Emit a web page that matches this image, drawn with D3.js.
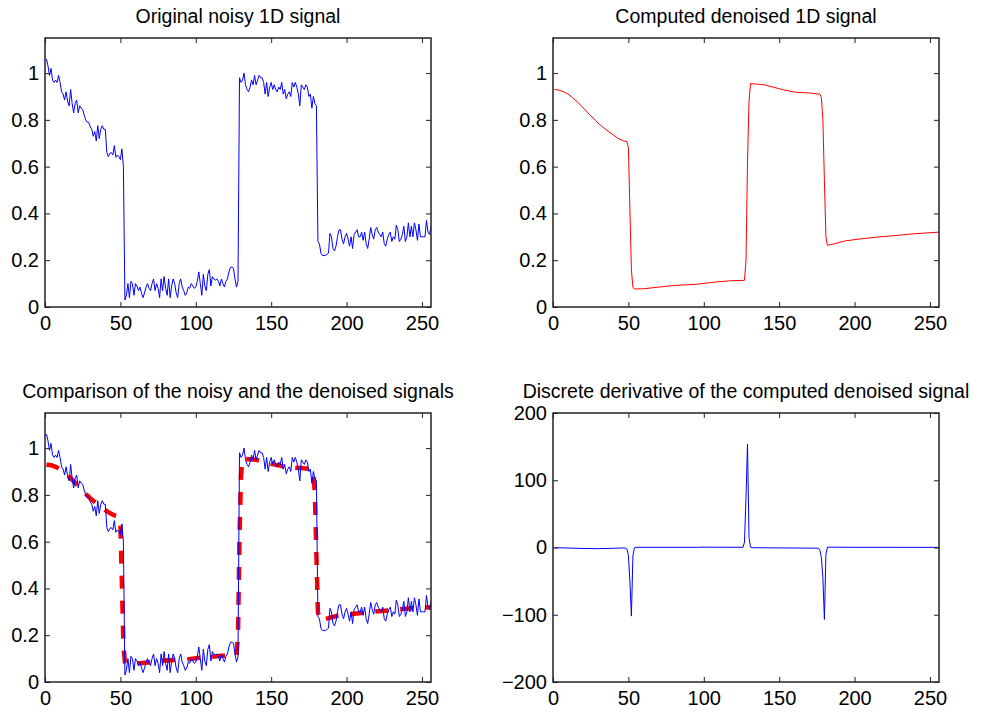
<!DOCTYPE html>
<html>
<head>
<meta charset="utf-8">
<script src="https://cdn.jsdelivr.net/npm/d3@7"></script>
<style>
  body { margin: 0; background: #fff; }
  svg { display: block; }
  text { font-family: "Liberation Sans", Arial, Helvetica, sans-serif; fill: #000; }
</style>
</head>
<body>
<svg width="982" height="713"></svg>
<script>
var svg = d3.select('svg');

// noisy signal, samples 1..256
var noisy = [
  1.06, 1.03, 0.99, 1.02, 0.97, 0.96, 0.97, 0.96, 0.99, 0.96,
  0.92, 0.91, 0.885, 0.92, 0.88, 0.86, 0.93, 0.87, 0.83, 0.87,
  0.885, 0.83, 0.86, 0.85, 0.845, 0.82, 0.80, 0.79, 0.79, 0.77,
  0.76, 0.73, 0.75, 0.71, 0.775, 0.72, 0.76, 0.775, 0.76, 0.76,
  0.66, 0.643, 0.657, 0.66, 0.65, 0.69, 0.64, 0.65, 0.643, 0.63,
  0.676, 0.60,
  0.03, 0.05, 0.10, 0.04, 0.11, 0.10, 0.05, 0.10, 0.09, 0.07,
  0.085, 0.06, 0.04, 0.06, 0.085, 0.10, 0.08, 0.07, 0.10, 0.12,
  0.07, 0.10, 0.08, 0.04, 0.12, 0.07, 0.13, 0.08, 0.05, 0.12,
  0.04, 0.09, 0.12, 0.10, 0.06, 0.04, 0.10, 0.12, 0.085, 0.07,
  0.05, 0.06, 0.085, 0.08, 0.10, 0.09, 0.08, 0.085, 0.11, 0.15,
  0.10, 0.05, 0.14, 0.09, 0.07, 0.14, 0.16, 0.09, 0.13, 0.12,
  0.115, 0.12, 0.11, 0.09, 0.12, 0.10, 0.085, 0.11, 0.12, 0.15,
  0.17, 0.17, 0.165, 0.12, 0.085, 0.11,
  0.98, 0.96, 0.97, 1.00, 0.95, 0.93, 0.92, 0.94, 0.97, 0.95,
  0.99, 0.95, 0.97, 0.99, 0.98, 0.98, 0.96, 0.91, 0.96, 0.90,
  0.94, 0.96, 0.93, 0.95, 0.93, 0.92, 0.94, 0.93, 0.96, 0.91,
  0.93, 0.89, 0.91, 0.92, 0.90, 0.96, 0.94, 0.96, 0.94, 0.91,
  0.86, 0.95, 0.94, 0.93, 0.95, 0.94, 0.90, 0.91, 0.85, 0.90,
  0.87, 0.86,
  0.28, 0.27, 0.23, 0.22, 0.22, 0.22, 0.225, 0.23, 0.315, 0.30,
  0.25, 0.24, 0.26, 0.30, 0.33, 0.33, 0.29, 0.27, 0.30, 0.315,
  0.29, 0.26, 0.30, 0.25, 0.31, 0.32, 0.33, 0.30, 0.30, 0.32,
  0.285, 0.32, 0.27, 0.25, 0.29, 0.34, 0.31, 0.29, 0.33, 0.34,
  0.32, 0.31, 0.30, 0.32, 0.27, 0.26, 0.29, 0.31, 0.32, 0.28,
  0.30, 0.29, 0.35, 0.33, 0.28, 0.29, 0.31, 0.345, 0.28, 0.30,
  0.36, 0.30, 0.345, 0.30, 0.36, 0.33, 0.285, 0.355, 0.30, 0.30,
  0.30, 0.30, 0.37, 0.32, 0.31, 0.345
];

// denoised signal, [sample, value]
var denoised = [
  [1, 0.93], [4, 0.927], [7, 0.92], [10, 0.91], [13, 0.895], [16, 0.878],
  [19, 0.858], [22, 0.838], [25, 0.818], [28, 0.798], [31, 0.78], [34, 0.764],
  [37, 0.75], [40, 0.735], [43, 0.722], [46, 0.712], [49, 0.707], [50, 0.68],
  [51, 0.42], [52, 0.16], [53, 0.085], [54, 0.077], [60, 0.078], [70, 0.085],
  [80, 0.092], [95, 0.097], [105, 0.105], [117, 0.112], [127, 0.114],
  [128, 0.2], [129, 0.62], [130, 0.88], [131, 0.955], [140, 0.95],
  [146, 0.94], [153, 0.928], [161, 0.918], [170, 0.915], [177, 0.91],
  [178, 0.895], [179, 0.80], [180, 0.54], [181, 0.30], [182, 0.264],
  [184, 0.266], [194, 0.283], [205, 0.292], [217, 0.30], [228, 0.306],
  [239, 0.313], [256, 0.32]
];

// discrete derivative, [sample, value]
var derivative = [
  [1, -0.3], [10, -0.8], [20, -1.5], [30, -1.7], [40, -1.2], [47, -0.6],
  [48, -1], [49, -2], [50, -12], [51, -50], [52, -102], [53, -12], [54, -0.5],
  [55, 0.3], [95, 0.3], [100, 0.5], [126, 0.3], [127, 8], [128, 75],
  [129, 154], [130, 15], [131, 0.5], [132, -0.3], [176, -1], [177, -4],
  [178, -15], [179, -45], [180, -107], [181, -10], [182, 0.5], [200, 0.3],
  [256, 0.2]
];

var titles = [
  'Original noisy 1D signal',
  'Computed denoised 1D signal',
  'Comparison of the noisy and the denoised signals',
  'Discrete derivative of the computed denoised signal'
];

var xTicks = [0, 50, 100, 150, 200, 250];
var yTicksSignal = [0, 0.2, 0.4, 0.6, 0.8, 1];
var yTicksDeriv = [-200, -100, 0, 100, 200];

var xDomain = [0, 256];
var yDomainSignal = [0, 1.15];
var yDomainDeriv = [-200, 200];

var noisyPts = noisy.map(function(v, i) { return [i + 1, v]; });

// panel boxes in pixels
var cols = [[45, 431], [553, 939]];
var rows = [[38, 307], [413, 682]];

var panels = [
  { col: 0, row: 0, title: titles[0], yDomain: yDomainSignal, yTicks: yTicksSignal },
  { col: 1, row: 0, title: titles[1], yDomain: yDomainSignal, yTicks: yTicksSignal },
  { col: 0, row: 1, title: titles[2], yDomain: yDomainSignal, yTicks: yTicksSignal },
  { col: 1, row: 1, title: titles[3], yDomain: yDomainDeriv, yTicks: yTicksDeriv }
];

function fmtY(v) {
  var s = d3.format('~g')(v);
  return s.replace('-', '\u2212');
}

function makePanel(p) {
  var x0 = cols[p.col][0], x1 = cols[p.col][1];
  var y0 = rows[p.row][0], y1 = rows[p.row][1];
  var x = d3.scaleLinear().domain(xDomain).range([x0, x1]);
  var y = d3.scaleLinear().domain(p.yDomain).range([y1, y0]);
  var g = svg.append('g');

  var clipId = 'clip' + p.col + p.row;
  g.append('clipPath').attr('id', clipId)
    .append('rect')
    .attr('x', x0).attr('y', y0)
    .attr('width', x1 - x0).attr('height', y1 - y0);

  var plot = g.append('g').attr('clip-path', 'url(#' + clipId + ')');

  // ticks inside the box, on all four sides (matlab style)
  var tickLen = 5;
  var axBottom = d3.axisBottom(x).tickValues(xTicks).tickSize(-tickLen).tickPadding(9);
  var axTop = d3.axisTop(x).tickValues(xTicks).tickSize(-tickLen).tickFormat('');
  var axLeft = d3.axisLeft(y).tickValues(p.yTicks).tickSize(-tickLen).tickPadding(6).tickFormat(fmtY);
  var axRight = d3.axisRight(y).tickValues(p.yTicks).tickSize(-tickLen).tickFormat('');

  [[axBottom, 'translate(0,' + y1 + ')'], [axTop, 'translate(0,' + y0 + ')'],
   [axLeft, 'translate(' + x0 + ',0)'], [axRight, 'translate(' + x1 + ',0)']]
    .forEach(function(a) {
      var ag = g.append('g').attr('transform', a[1]).call(a[0]);
      ag.select('.domain').remove();
      ag.selectAll('.tick line').attr('stroke', '#222').attr('stroke-width', 1);
      ag.selectAll('.tick text')
        .attr('font-size', 20)
        .style('font-family', '"Liberation Sans", Arial, sans-serif')
        .attr('fill', '#000');
    });

  g.append('rect')
    .attr('x', x0).attr('y', y0)
    .attr('width', x1 - x0).attr('height', y1 - y0)
    .attr('fill', 'none')
    .attr('stroke', '#222')
    .attr('stroke-width', 1.5);

  g.append('text')
    .attr('x', (x0 + x1) / 2)
    .attr('y', y0 - 15)
    .attr('text-anchor', 'middle')
    .attr('font-size', 19.5)
    .text(p.title);

  return { x: x, y: y, plot: plot };
}

var line = function(x, y) {
  return d3.line().x(function(d) { return x(d[0]); }).y(function(d) { return y(d[1]); });
};

var a = makePanel(panels[0]);
a.plot.append('path').datum(noisyPts)
  .attr('d', line(a.x, a.y)).attr('fill', 'none')
  .attr('stroke', '#0000ff').attr('stroke-width', 1);

var b = makePanel(panels[1]);
b.plot.append('path').datum(denoised)
  .attr('d', line(b.x, b.y)).attr('fill', 'none')
  .attr('stroke', '#ff0000').attr('stroke-width', 1);

//comparison: thick red dashes first, the noisy blue line over them
var c = makePanel(panels[2]);
c.plot.append('path').datum(denoised)
  .attr('d', line(c.x, c.y)).attr('fill', 'none')
  .attr('stroke', '#ff0000').attr('stroke-width', 4.5)
  .attr('stroke-dasharray', '13,12');
c.plot.append('path').datum(noisyPts)
  .attr('d', line(c.x, c.y)).attr('fill', 'none')
  .attr('stroke', '#0000ff').attr('stroke-width', 1);

var e = makePanel(panels[3]);
e.plot.append('path').datum(derivative)
  .attr('d', line(e.x, e.y)).attr('fill', 'none')
  .attr('stroke', '#0000ff').attr('stroke-width', 1);
</script>
</body>
</html>
